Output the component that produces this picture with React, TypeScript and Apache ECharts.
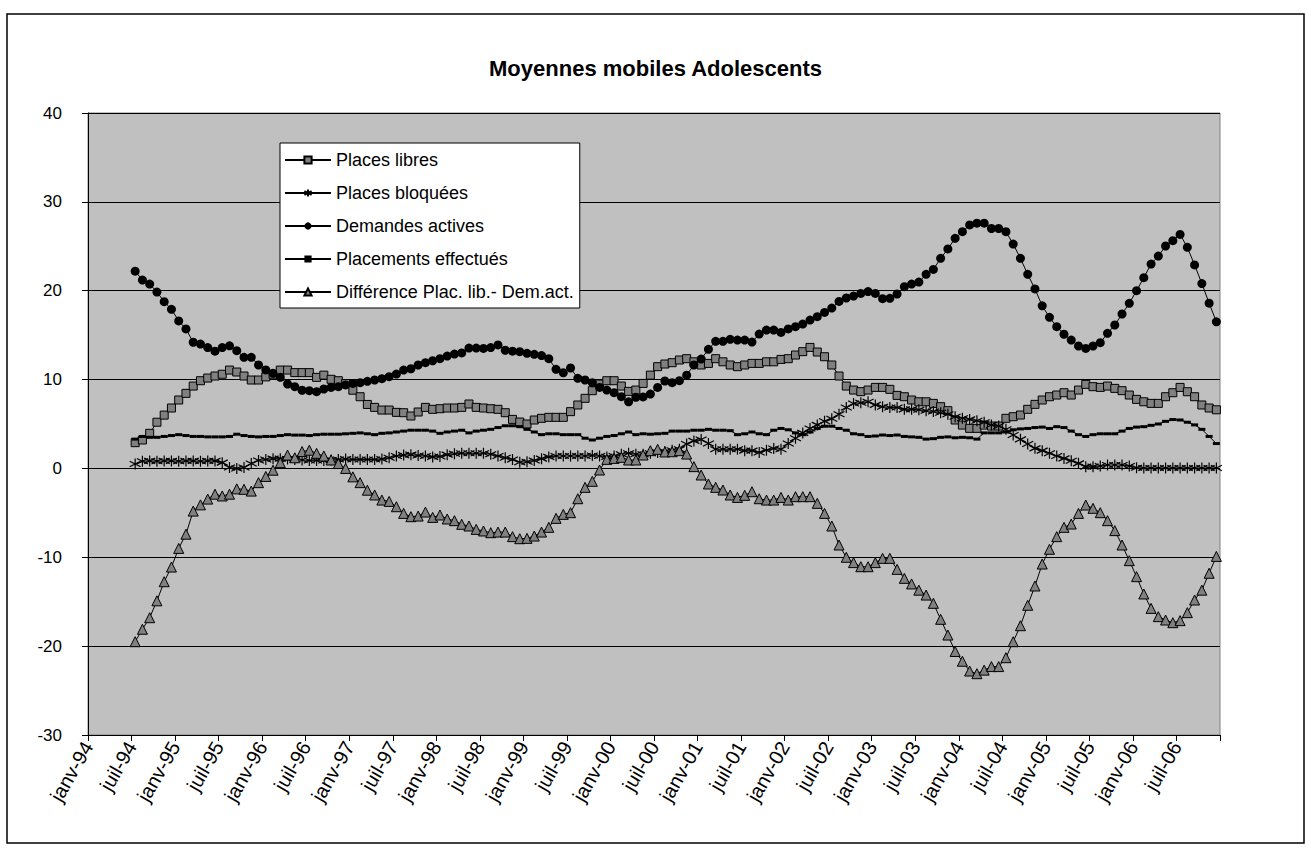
import React, { useEffect, useRef } from 'react';
import * as echarts from 'echarts';

// Tick labels every 6 months, starting janv-94 (month index 0)
const tickLabels = [
  'janv-94', 'juil-94', 'janv-95', 'juil-95', 'janv-96', 'juil-96', 'janv-97', 'juil-97',
  'janv-98', 'juil-98', 'janv-99', 'juil-99', 'janv-00', 'juil-00', 'janv-01', 'juil-01',
  'janv-02', 'juil-02', 'janv-03', 'juil-03', 'janv-04', 'juil-04', 'janv-05', 'juil-05',
  'janv-06', 'juil-06',
];

// First data month: juil-94 (6 months after janv-94); monthly values to déc-06
const firstMonth = 6;

const placesLibres = [
  2.9, 3.2, 3.95, 5.2, 6.0, 6.8, 7.7, 8.45, 9.27, 9.87, 10.17, 10.4, 10.6, 11.07, 10.85, 10.4, 9.95, 9.95, 10.3, 10.6,
  11.07, 11.07, 10.78, 10.78, 10.78, 10.25, 10.5, 10.03, 9.87, 9.55, 8.8, 8.07, 7.2,
  6.87, 6.57, 6.57, 6.31, 6.27, 5.9, 6.35, 6.87, 6.65, 6.72, 6.8, 6.8, 6.87, 7.25, 6.87, 6.8, 6.72, 6.65, 6.27, 5.52,
  5.22, 5.0, 5.45, 5.64, 5.75, 5.75, 5.75, 6.39, 7.14, 7.89, 8.75, 9.5, 9.87, 9.87, 9.27, 8.67, 8.82, 9.57,
  10.5, 11.45, 11.75, 11.9, 12.2, 12.35, 12.0, 11.64, 11.82, 12.35, 12.0, 11.64, 11.45, 11.64, 11.82, 11.82, 12.0, 12.0,
  12.27, 12.35, 12.76, 13.14, 13.62, 13.1, 12.57, 11.64, 10.4, 9.27, 8.82, 8.64, 8.82, 9.12, 9.12, 8.9, 8.22, 8.07, 7.7, 7.5,
  7.5, 7.32, 6.95, 6.5, 5.45, 4.88, 4.51, 4.51, 4.88, 4.77, 4.77, 5.64, 5.82, 6.01, 6.65, 7.21, 7.7, 8.07, 8.26, 8.52,
  8.26, 8.82, 9.46, 9.2, 9.12, 9.27, 9.01, 8.75, 8.26, 7.77, 7.5, 7.32, 7.32, 8.07, 8.52, 9.12, 8.63, 8.07, 7.14, 6.8, 6.6,
];

const placesBloquees = [
  0.5, 0.8, 0.85, 0.8, 0.85, 0.85, 0.8, 0.85, 0.85, 0.8, 0.85, 0.85, 0.65, 0.1, 0.0, 0.1, 0.55, 0.9, 1.0, 1.1,
  1.1, 1.05, 1.0, 0.95, 0.9, 0.9, 0.9, 0.95, 1.0, 1.05, 1.0, 1.0, 1.0,
  1.0, 1.05, 1.2, 1.4, 1.5, 1.55, 1.45, 1.4, 1.3, 1.35, 1.55, 1.65, 1.7, 1.7, 1.7, 1.7, 1.6, 1.4, 1.2, 1.0,
  0.7, 0.75, 0.9, 1.1, 1.3, 1.4, 1.4, 1.4, 1.4, 1.4, 1.45, 1.4, 1.3, 1.4, 1.6, 1.7, 1.6, 1.6,
  1.7, 1.8, 1.9, 2.05, 2.15, 2.75, 3.1, 3.25, 2.8, 2.15, 2.15, 2.15, 2.15, 2.0, 2.0, 1.8, 2.05, 2.25, 2.15, 2.8,
  3.4, 4.0, 4.5, 4.9, 5.3, 5.6, 6.1, 6.85, 7.3, 7.4, 7.5, 7.15, 6.95, 6.85, 6.85, 6.65, 6.65, 6.6,
  6.5, 6.4, 6.27, 6.09, 5.82, 5.64, 5.52, 5.37, 5.19, 4.88, 4.77, 4.4, 3.76, 3.27, 2.75, 2.26, 2.0, 1.7, 1.4, 1.13,
  0.87, 0.57, 0.2, 0.2, 0.27, 0.38, 0.38, 0.38, 0.27, 0.08, 0.05, 0.05, 0.05, 0.05, 0.05, 0.05, 0.05, 0.05, 0.05, 0.05, 0.05,
];

const demandesActives = [
  22.2, 21.2, 20.75, 19.85, 18.77, 17.9, 16.6, 15.7, 14.2, 14.0, 13.6, 13.2, 13.6, 13.8, 13.25, 12.5, 12.5, 11.64, 11.08, 10.7,
  10.25, 9.5, 9.2, 8.8, 8.75, 8.64, 8.94, 9.12, 9.2, 9.4, 9.57, 9.65, 9.8,
  9.95, 10.1, 10.33, 10.62, 11.07, 11.22, 11.64, 11.9, 12.12, 12.35, 12.65, 12.87, 13.0, 13.55, 13.55, 13.5, 13.6, 13.9,
  13.3, 13.2, 13.14, 12.95, 12.84, 12.7, 12.35, 11.15, 10.77, 11.3, 10.14, 9.95, 9.65, 9.12, 8.82, 8.52, 8.07, 7.5, 8.0, 8.05,
  8.37, 9.12, 9.84, 9.65, 9.87, 10.5, 11.64, 12.31, 13.4, 14.3, 14.3, 14.53, 14.45, 14.45, 14.22, 15.12, 15.57, 15.57,
  15.3, 15.7, 15.95, 16.25, 16.7, 17.08, 17.56, 18.05, 18.8, 19.18, 19.4, 19.7, 19.9, 19.7, 19.1, 19.14, 19.63, 20.45, 20.75, 20.97,
  21.84, 22.4, 23.64, 24.7, 25.9, 26.64, 27.4, 27.6, 27.6, 27.0, 27.0, 26.64, 25.25, 23.64, 21.84, 20.2, 18.3, 17.0, 15.95, 15.1,
  14.45, 13.78, 13.5, 13.78, 14.15, 15.2, 16.14, 17.38, 18.58, 20.0, 21.47, 23.0, 23.9, 25.03, 25.63, 26.34, 24.88, 22.9, 20.8, 18.6, 16.5,
];

const placementsEffectues = [
  3.3, 3.6, 3.5, 3.5, 3.6, 3.7, 3.8, 3.7, 3.6, 3.6, 3.55, 3.55, 3.55, 3.6, 3.85, 3.7, 3.6, 3.55, 3.6, 3.6,
  3.7, 3.8, 3.75, 3.75, 3.7, 3.8, 3.85, 3.85, 3.85, 3.9, 3.95, 4.0, 3.9,
  3.8, 3.95, 4.0, 4.1, 4.2, 4.3, 4.3, 4.3, 4.2, 3.95, 4.1, 4.2, 4.3, 4.0, 4.2, 4.3, 4.4, 4.6, 4.8, 4.8,
  4.7, 4.4, 4.1, 3.8, 3.9, 3.9, 3.8, 3.8, 3.8, 3.4, 3.2, 3.4, 3.6, 3.7, 3.9, 4.1, 3.8, 3.9,
  3.85, 3.9, 3.95, 4.2, 4.2, 4.2, 4.3, 4.3, 4.4, 4.3, 4.3, 4.25, 3.8, 3.9, 4.1, 3.9, 3.8, 4.3, 4.5, 4.35,
  4.0, 3.8, 4.1, 4.5, 4.75, 4.75, 4.5, 4.3, 3.9, 3.8, 3.6, 3.65, 3.76, 3.7, 3.76, 3.6, 3.55, 3.5,
  3.3, 3.35, 3.5, 3.55, 3.45, 3.5, 3.45, 3.3, 4.0, 4.0, 4.0, 4.1, 4.35, 4.45, 4.5, 4.6, 4.65, 4.5, 4.7, 4.6,
  4.2, 3.8, 3.6, 3.8, 3.9, 3.9, 3.9, 4.2, 4.5, 4.65, 4.7, 4.85, 5.0, 5.3, 5.5, 5.45, 5.2, 4.9, 4.4, 3.6, 2.8,
];

const difference = [
  -19.5, -18.1, -16.8, -14.9, -12.75, -11.1, -9.0, -7.4, -4.8, -4.1, -3.45, -2.9, -3.1, -2.9, -2.3, -2.35, -2.55, -1.6, -0.9, -0.2,
  0.65, 1.5, 1.2, 1.9, 2.05, 1.7, 1.4, 0.95, 0.55, 0.0, -0.95, -1.6, -2.45,
  -2.99, -3.56, -3.71, -4.31, -5.06, -5.43, -5.36, -4.91, -5.51, -5.24, -5.69, -5.88, -6.29, -6.48, -6.86, -7.04, -7.23, -7.16,
  -7.16, -7.68, -7.91, -7.87, -7.61, -7.16, -6.63, -5.62, -5.17, -4.98, -3.41, -2.13, -1.45, -0.18, 1.02, 1.13, 1.25, 0.95, 0.95, 1.51,
  2.0, 2.15, 1.85, 1.88, 2.0, 1.62, 0.2, -0.74, -1.75, -2.13, -2.43, -2.99, -3.26, -3.03, -2.62, -3.41, -3.56, -3.56, -3.26, -3.56,
  -3.18, -3.18, -3.18, -3.93, -5.06, -6.48, -8.62, -10.0, -10.6, -11.06, -11.06, -10.6, -10.12, -10.12, -11.36, -12.37, -13.0, -13.7,
  -14.25, -15.18, -16.98, -18.75, -20.6, -21.7, -22.8, -23.1, -22.7, -22.3, -22.3, -21.3, -19.5, -17.7, -15.4, -13.23, -10.76, -9.1, -7.68, -6.63,
  -6.26, -5.06, -4.12, -4.49, -4.98, -5.88, -7.0, -8.62, -10.38, -12.18, -14.13, -15.75, -16.68, -17.06, -17.36, -17.13, -16.23, -14.81, -13.7, -11.8, -9.9,
];

const seriesNames = [
  'Places libres',
  'Places bloquées',
  'Demandes actives',
  'Placements effectués',
  'Différence Plac. lib.- Dem.act.',
];

const FONT = '"Liberation Sans", Arial, sans-serif';
const STAR = 'path://M5,0L5,10M0.7,2.5L9.3,7.5M0.7,7.5L9.3,2.5';

const toPairs = (arr: number[]) => arr.map((v, i) => [firstMonth + i + 0.5, v]);

export default function App() {
  const ref = useRef<HTMLDivElement>(null);

  useEffect(() => {
    if (!ref.current) return;
    const chart = echarts.init(ref.current, null, { renderer: 'svg' });
    const base = { type: 'line', showAllSymbol: true, lineStyle: { color: '#000', width: 1 } };
    chart.setOption({
      animation: false,
      backgroundColor: '#ffffff',
      title: {
        text: 'Moyennes mobiles Adolescents',
        left: 'center',
        top: 57,
        padding: 0,
        textStyle: { fontFamily: FONT, fontSize: 22, fontWeight: 'bold', color: '#000' },
      },
      graphic: [
        {
          type: 'rect',
          z: 100,
          silent: true,
          shape: { x: 7, y: 14, width: 1297, height: 829 },
          style: { fill: 'none', stroke: '#000', lineWidth: 1.5 },
        },
      ],
      legend: {
        orient: 'vertical',
        left: 280,
        top: 143,
        backgroundColor: '#ffffff',
        borderColor: '#000',
        borderWidth: 1,
        borderRadius: 0,
        padding: [8, 6, 7, 4],
        itemGap: 15,
        itemWidth: 46,
        itemHeight: 9,
        textStyle: { fontFamily: FONT, fontSize: 18, color: '#000' },
        data: seriesNames,
      },
      grid: {
        left: 88,
        right: 91,
        top: 113,
        bottom: 113,
        show: true,
        backgroundColor: '#c0c0c0',
        borderColor: '#808080',
        borderWidth: 1,
      },
      xAxis: {
        type: 'value',
        min: 0,
        max: 156,
        interval: 6,
        axisLine: { show: true, onZero: false, lineStyle: { color: '#000', width: 1 } },
        axisTick: { show: true, length: 6, lineStyle: { color: '#000' } },
        splitLine: { show: false },
        axisLabel: {
          rotate: 60,
          margin: 8,
          fontFamily: FONT,
          fontSize: 20,
          color: '#000',
          showMinLabel: true,
          showMaxLabel: true,
          formatter: (v: number) => tickLabels[Math.round(v / 6)] ?? '',
        },
      },
      yAxis: {
        type: 'value',
        min: -30,
        max: 40,
        interval: 10,
        axisLine: { show: true, lineStyle: { color: '#000', width: 1 } },
        axisTick: { show: true, length: 6, lineStyle: { color: '#000' } },
        splitLine: { show: true, lineStyle: { color: '#000', width: 1 } },
        axisLabel: { margin: 26, fontFamily: FONT, fontSize: 17, color: '#000' },
      },
      series: [
        {
          ...base,
          name: seriesNames[0],
          data: toPairs(placesLibres),
          symbol: 'rect',
          symbolSize: 8,
          itemStyle: { color: '#808080', borderColor: '#000', borderWidth: 1 },
          z: 2,
        },
        {
          ...base,
          name: seriesNames[1],
          data: toPairs(placesBloquees),
          symbol: STAR,
          symbolSize: 11,
          itemStyle: { color: '#000', borderColor: '#000', borderWidth: 1.2 },
          z: 3,
        },
        {
          ...base,
          name: seriesNames[2],
          data: toPairs(demandesActives),
          symbol: 'circle',
          symbolSize: 9,
          itemStyle: { color: '#000', borderColor: '#000', borderWidth: 0 },
          z: 4,
        },
        {
          ...base,
          name: seriesNames[3],
          data: toPairs(placementsEffectues),
          symbol: 'rect',
          symbolSize: [7, 3],
          itemStyle: { color: '#000', borderWidth: 0 },
          z: 5,
        },
        {
          ...base,
          name: seriesNames[4],
          data: toPairs(difference),
          symbol: 'triangle',
          symbolSize: 10,
          itemStyle: { color: '#808080', borderColor: '#000', borderWidth: 1 },
          z: 6,
        },
      ],
    });
    return () => chart.dispose();
  }, []);

  return (
    <div
      ref={ref}
      style={{ position: 'absolute', left: 0, top: 0, width: 1311, height: 848 }}
    />
  );
}
